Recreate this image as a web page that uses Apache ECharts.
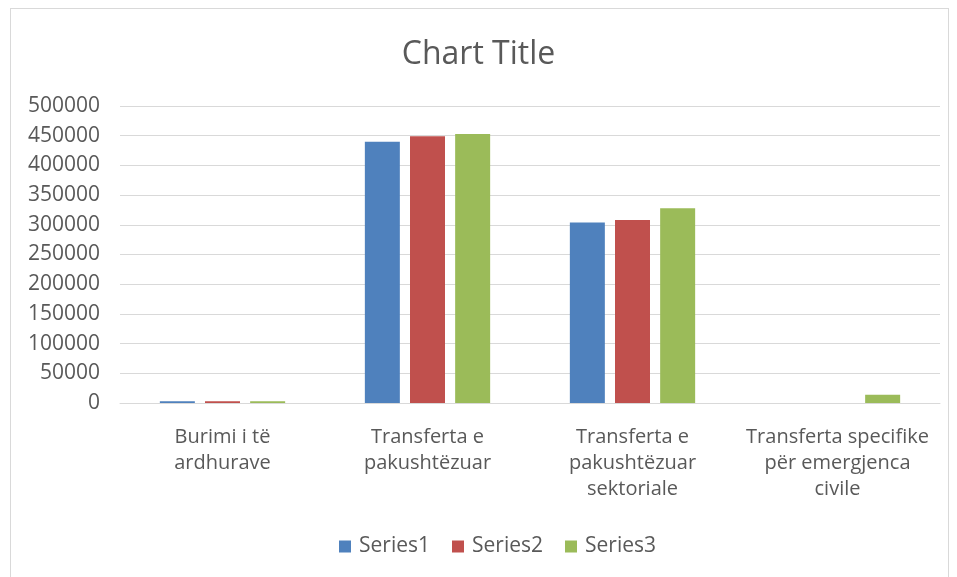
<!DOCTYPE html>
<html>
<head>
<meta charset="utf-8">
<script src="https://cdn.jsdelivr.net/npm/echarts@6/dist/echarts.min.js"></script>
<style>
html,body{margin:0;padding:0;background:#fff;}
#frame{position:absolute;left:10px;top:8px;width:939px;height:580px;border:1px solid #d9d9d9;box-sizing:border-box;}
#chart{position:absolute;left:0;top:0;width:957px;height:577px;}
</style>
</head>
<body>
<div id="frame"></div>
<div id="chart"></div>
<script>
const categories = ["Burimi i të\nardhurave", "Transferta e\npakushtëzuar", "Transferta e\npakushtëzuar\nsektoriale", "Transferta specifike\npër emergjenca\ncivile"];
const seriesNames = ["Series1", "Series2", "Series3"];
const series1 = [3000, 440000, 304000, 0];
const series2 = [3000, 449000, 308000, 0];
const series3 = [3000, 453000, 328000, 14000];
const colors = ["#4f81bd", "#c0504d", "#9bbb59"];

const chart = echarts.init(document.getElementById('chart'), null, {renderer: 'canvas'});
const font = "'Open Sans', 'Liberation Sans', sans-serif";
const data = [series1, series2, series3];
chart.setOption({
  animation: false,
  backgroundColor: 'transparent',
  title: {
    text: 'Chart Title', left: 'center', top: 34,
    textStyle: {fontFamily: font, fontSize: 32, fontWeight: 'normal', color: '#595959'}
  },
  legend: {
    data: seriesNames, bottom: 15, left: 334, itemWidth: 12, itemHeight: 12, itemGap: 22,
    icon: 'rect',
    textStyle: {fontFamily: font, fontSize: 21, color: '#595959', padding: [0, 0, 0, 3]}
  },
  grid: {left: 120, right: 17, top: 106, bottom: 174, containLabel: false},
  xAxis: {
    type: 'category', data: categories,
    axisLine: {lineStyle: {color: '#d9d9d9'}},
    axisTick: {show: false},
    axisLabel: {fontFamily: font, fontSize: 20, color: '#595959', lineHeight: 26, margin: 21, interval: 0}
  },
  yAxis: {
    type: 'value', min: 0, max: 500000, interval: 50000,
    axisLine: {show: false}, axisTick: {show: false},
    splitLine: {lineStyle: {color: '#d9d9d9'}},
    axisLabel: {fontFamily: font, fontSize: 21, color: '#595959', margin: 20, formatter: v => String(v)}
  },
  series: seriesNames.map((n, i) => ({
    name: n, type: 'bar', data: data[i], barWidth: 35, barGap: '29%',
    itemStyle: {color: colors[i]}
  }))
});
</script>
</body>
</html>
